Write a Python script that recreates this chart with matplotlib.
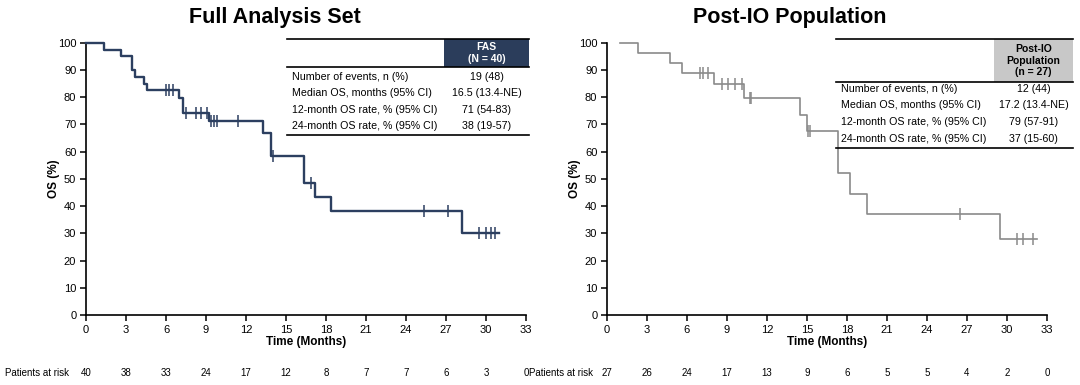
import numpy as np
import matplotlib.pyplot as plt
from matplotlib.patches import Rectangle
from matplotlib.lines import Line2D
from matplotlib.transforms import blended_transform_factory

plt.rcParams['font.family'] = ['Liberation Sans', 'DejaVu Sans']

# ---- data ----
fas_t = [0, 1.35, 2.65, 3.47, 3.65, 4.35, 4.6, 7.0, 7.25, 9.2, 13.3, 13.9, 16.35, 17.15, 18.35, 28.2, 31.0]
fas_s = [100, 97.5, 95, 90, 87.5, 85, 82.5, 79.8, 74.2, 71.1, 67.0, 58.4, 48.6, 43.3, 38.1, 30.2, 30.2]
fas_cens = [6.0, 6.2, 6.5, 7.5, 8.25, 8.65, 9.05, 9.4, 9.6, 9.8, 11.4, 14.05, 16.9,
            25.35, 27.15, 29.5, 30.0, 30.35, 30.65]
fas_risk = [40, 38, 33, 24, 17, 12, 8, 7, 7, 6, 3, 0]

io_t = [0.95, 2.35, 4.7, 5.6, 8.0, 10.3, 14.45, 15.0, 17.35, 18.2, 19.5, 29.5, 32.25]
io_s = [100, 96.3, 92.6, 88.9, 84.7, 79.7, 73.6, 67.4, 52.3, 44.5, 37.2, 27.9, 27.9]
io_cens = [7.0, 7.2, 7.6, 8.6, 9.1, 9.6, 10.1, 10.7, 10.8, 15.1, 15.25, 26.5, 30.75, 31.2, 31.95]
io_risk = [27, 26, 24, 17, 13, 9, 6, 5, 5, 4, 2, 0]

row_labels = ["Number of events, n (%)", "Median OS, months (95% CI)",
              "12-month OS rate, % (95% CI)", "24-month OS rate, % (95% CI)"]
fas_vals = ["19 (48)", "16.5 (13.4-NE)", "71 (54-83)", "38 (19-57)"]
io_vals = ["12 (44)", "17.2 (13.4-NE)", "79 (57-91)", "37 (15-60)"]

months = list(range(0, 34, 3))

W, H = 1080, 385
fig = plt.figure(figsize=(10.8, 3.85), dpi=100)


def fx(x):
    return x / W


def fy(y):
    return 1 - y / H


def level(t, s, tc):
    idx = np.searchsorted(t, tc, side='right') - 1
    return np.array(s)[idx]


def km_panel(x0, t, s, cens, color, lw, risk, title, title_x):
    ax = fig.add_axes([fx(x0), fy(315), 440 / W, 272.3 / H])
    ax.step(t, s, where='post', color=color, lw=lw, clip_on=False, zorder=3)
    ax.plot(cens, level(t, s, cens), ls='none', marker='|', ms=8, mew=1.1,
            color=color, clip_on=False, zorder=3)
    ax.set_xlim(0, 33)
    ax.set_ylim(0, 100)
    ax.set_xticks(months)
    ax.set_yticks(range(0, 101, 10))
    for sp in ['top', 'right']:
        ax.spines[sp].set_visible(False)
    for sp in ['left', 'bottom']:
        ax.spines[sp].set_linewidth(1.2)
    ax.tick_params(direction='out', length=4, width=1.1, labelsize=8, pad=3)
    ax.set_xlabel('Time (Months)', fontsize=8.5, fontweight='bold', labelpad=1)
    ax.set_ylabel('OS (%)', fontsize=8.5, fontweight='bold')
    ax.yaxis.set_label_coords(-0.058, 0.5)
    tr = blended_transform_factory(ax.transData, fig.transFigure)
    for m, r in zip(months, risk):
        ax.text(m, fy(373), str(r), transform=tr, ha='center', va='center', fontsize=7)
    fig.text(fx(title_x), fy(17), title, ha='center', va='center',
             fontsize=15.5, fontweight='bold')
    return ax


km_panel(86, fas_t, fas_s, fas_cens, '#2c3f60', 1.7, fas_risk, 'Full Analysis Set', 275)
km_panel(607, io_t, io_s, io_cens, '#8a8a8a', 1.2, io_risk, 'Post-IO Population', 790)

fig.text(fx(5), fy(373), 'Patients at risk', ha='left', va='center', fontsize=7)
fig.text(fx(593), fy(373), 'Patients at risk', ha='right', va='center', fontsize=7)


def hline(x1, x2, y, lw=1.2):
    fig.add_artist(Line2D([fx(x1), fx(x2)], [fy(y), fy(y)], color='black', lw=lw,
                          transform=fig.transFigure))


def table(x1, x2, hx, hb, head, hcol, tcol, rows_y, bottom, vals):
    fig.add_artist(Rectangle((fx(hx), fy(hb)), fx(x2) - fx(hx), fy(39) - fy(hb),
                             transform=fig.transFigure, facecolor=hcol, edgecolor='none'))
    hline(x1, x2, 39)
    hline(x1, x2, hb)
    hline(x1, x2, bottom)
    cx = (hx + x2) / 2
    fig.text(fx(cx), fy((39 + hb) / 2), head, ha='center', va='center', fontsize=7.5,
             fontweight='bold', color=tcol, linespacing=1.15)
    for yy, lab, v in zip(rows_y, row_labels, vals):
        fig.text(fx(x1 + 5), fy(yy), lab, ha='left', va='center', fontsize=7.7)
        fig.text(fx(cx), fy(yy), v, ha='center', va='center', fontsize=7.7)


table(287, 529, 444, 67, 'FAS\n(N = 40)', '#2b3d5b', 'white',
      [77, 93, 110, 126], 135, fas_vals)
table(836, 1073, 994, 82, 'Post-IO\nPopulation\n(n = 27)', '#c8c8c8', 'black',
      [89, 105, 122, 139], 148, io_vals)

fig.savefig('out.png', dpi=100)
